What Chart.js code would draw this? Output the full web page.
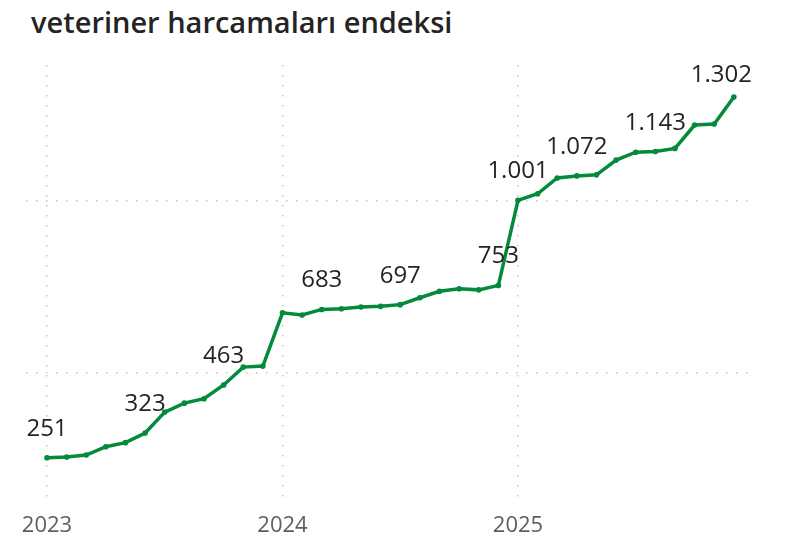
<!DOCTYPE html>
<html>
<head>
<meta charset="utf-8">
<script src="https://cdn.jsdelivr.net/npm/chart.js@4"></script>
<style>
  html, body { margin: 0; padding: 0; background: #fff; }
  #wrap { position: relative; width: 790px; height: 537px; }
  #title {
    position: absolute; left: 31px; top: 2px;
    font-family: "Open Sans", sans-serif; font-weight: 600; font-size: 29px;
    color: #252423; white-space: nowrap;
  }
  canvas { position: absolute; left: 0; top: 0; }
</style>
</head>
<body>
<div id="wrap">
  <div id="title">veteriner harcamaları endeksi</div>
  <canvas id="c" width="790" height="537"></canvas>
</div>
<script>
// aylık endeks, Ocak 2023 - Aralık 2025
const years = ['2023', '2024', '2025'];
const months = [
  '2023-01','2023-02','2023-03','2023-04','2023-05','2023-06','2023-07','2023-08','2023-09','2023-10','2023-11','2023-12',
  '2024-01','2024-02','2024-03','2024-04','2024-05','2024-06','2024-07','2024-08','2024-09','2024-10','2024-11','2024-12',
  '2025-01','2025-02','2025-03','2025-04','2025-05','2025-06','2025-07','2025-08','2025-09','2025-10','2025-11','2025-12',
];
const values = [
  251, 253, 259, 283, 295, 323, 384, 410, 423, 463, 515, 518,
  673, 667, 683, 685, 690, 692, 697, 717, 736, 743, 740, 753,
  1001, 1020, 1066, 1072, 1075, 1118, 1141, 1143, 1152, 1220, 1223, 1302,
];
// etiket gösterilen aylar
const labelled = ['2023-01','2023-06','2023-10','2024-03','2024-07','2024-12','2025-01','2025-04','2025-08','2025-12'];
const gridValues = [500, 1000];

const fmt = v => v.toLocaleString('de-DE');

const pointLabels = {
  id: 'pointLabels',
  afterDatasetsDraw(chart) {
    const ctx = chart.ctx;
    const area = chart.chartArea;
    ctx.save();
    ctx.font = '24px "Open Sans", sans-serif';
    ctx.fillStyle = '#252423';
    ctx.textAlign = 'center';
    ctx.textBaseline = 'alphabetic';
    chart.getDatasetMeta(0).data.forEach((pt, i) => {
      if (!labelled.includes(months[i])) return;
      const txt = fmt(values[i]);
      const w = ctx.measureText(txt).width;
      let x = pt.x;
      if (x + w / 2 > area.right + 4) x = area.right + 4 - w / 2;
      let y = Math.max(pt.y - 22, area.top + 17);
      ctx.fillText(txt, x, y);
    });
    ctx.restore();
  },
};

new Chart(document.getElementById('c'), {
  type: 'line',
  data: {
    datasets: [{
      data: values.map((v, i) => ({ x: i, y: v })),
      borderColor: '#038a3b',
      backgroundColor: '#038a3b',
      borderWidth: 3.5,
      pointRadius: 2.8,
      pointHoverRadius: 2.8,
      pointBorderWidth: 0,
      tension: 0,
    }],
  },
  plugins: [pointLabels],
  options: {
    responsive: false,
    animation: false,
    layout: { padding: { left: 26, right: 42, top: 65, bottom: 0 } },
    plugins: { legend: { display: false }, tooltip: { enabled: false } },
    scales: {
      x: {
        type: 'linear',
        min: -1.07,
        max: 35.72,
        afterBuildTicks: s => { s.ticks = years.map((_, k) => ({ value: k * 12 })); },
        afterFit: s => { s.height = 36; },
        ticks: {
          padding: 12,
          color: '#605e5c',
          font: { family: '"Open Sans", sans-serif', size: 22 },
          callback: v => years[v / 12],
        },
        grid: { color: '#c8c6c4', lineWidth: 1.5, drawTicks: false },
        border: { display: false, dash: [1.5, 8.5] },
      },
      y: {
        min: 125,
        max: 1395,
        afterBuildTicks: s => { s.ticks = gridValues.map(v => ({ value: v })); },
        ticks: { display: false },
        grid: { color: '#c8c6c4', lineWidth: 1.5, drawTicks: false },
        border: { display: false, dash: [1.5, 8.5] },
      },
    },
  },
});
</script>
</body>
</html>
